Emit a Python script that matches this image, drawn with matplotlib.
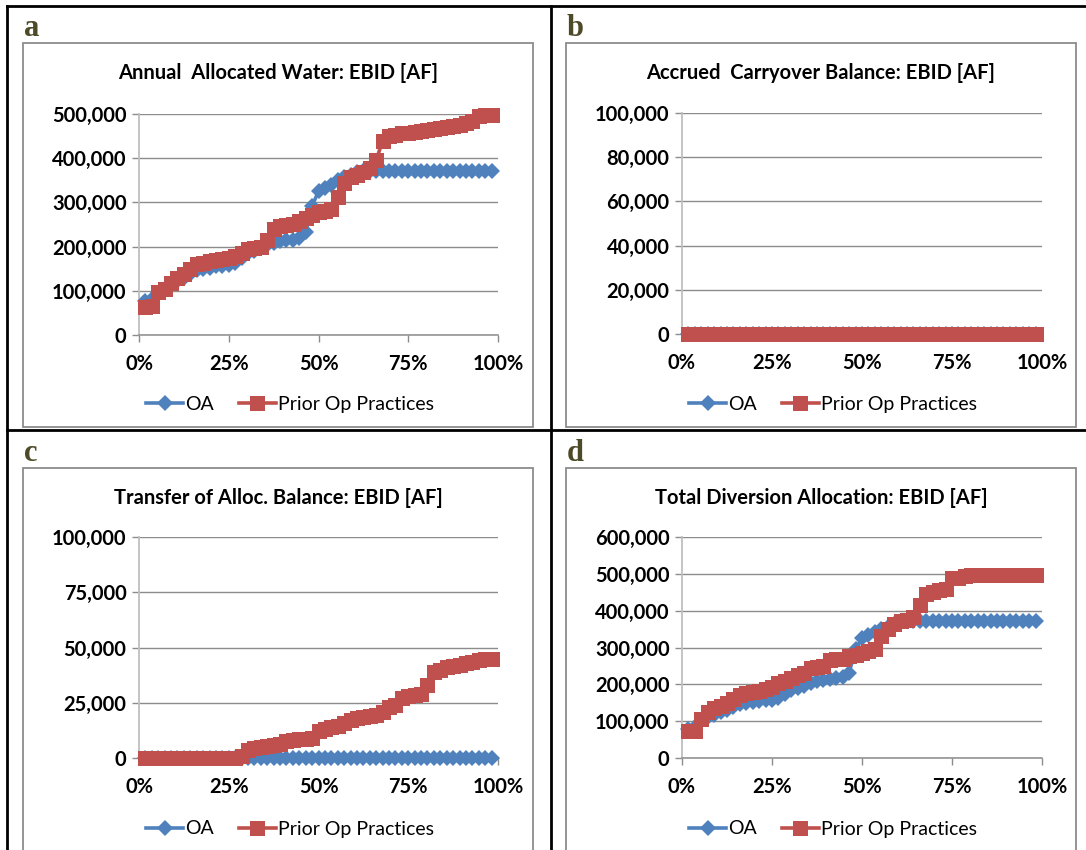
import numpy as np
import matplotlib
matplotlib.use("Agg")
import matplotlib.pyplot as plt
from matplotlib.lines import Line2D
from matplotlib.patches import Rectangle
from matplotlib.ticker import FuncFormatter

plt.rcParams['font.family'] = ['Lato', 'DejaVu Sans']

# ---------------- data ----------------
n_years = 55
exceedance = np.arange(1, n_years + 1) / (n_years + 1)   # plotting positions

series_names = ["OA", "Prior Op Practices"]

alloc_oa = [76000, 82000, 95000, 105000, 115000, 122000, 128000, 138000, 146000, 150000,
            152000, 155000, 157000, 158000, 163000, 175000, 185000, 190000, 196000, 203000,
            208000, 212000, 214000, 216000, 220000, 232000, 292000, 325000, 332000, 340000,
            350000, 357000, 363000, 368000, 372000, 372000, 372000, 372000, 372000, 372000,
            372000, 372000, 372000, 372000, 372000, 372000, 372000, 372000, 372000, 372000,
            372000, 372000, 372000, 372000, 372000]
alloc_prior = [64000, 65000, 98000, 105000, 118000, 128000, 137000, 150000, 160000, 164000,
               168000, 170000, 172000, 175000, 178000, 185000, 195000, 197000, 200000, 215000,
               240000, 246000, 249000, 252000, 258000, 265000, 272000, 278000, 281000, 285000,
               312000, 345000, 357000, 362000, 368000, 378000, 395000, 440000, 450000, 453000,
               456000, 458000, 460000, 462000, 464000, 466000, 468000, 470000, 472000, 475000,
               480000, 485000, 495000, 497000, 497000]

carry_oa = [0, 0, 0, 0, 0, 0, 0, 0, 0, 0, 0, 0, 0, 0, 0, 0, 0, 0, 0, 0, 0, 0, 0, 0, 0, 0, 0, 0,
            0, 0, 0, 0, 0, 0, 0, 0, 0, 0, 0, 0, 0, 0, 0, 0, 0, 0, 0, 0, 0, 0, 0, 0, 0, 0, 0]
carry_prior = [0, 0, 0, 0, 0, 0, 0, 0, 0, 0, 0, 0, 0, 0, 0, 0, 0, 0, 0, 0, 0, 0, 0, 0, 0, 0, 0, 0,
               0, 0, 0, 0, 0, 0, 0, 0, 0, 0, 0, 0, 0, 0, 0, 0, 0, 0, 0, 0, 0, 0, 0, 0, 0, 0, 0]

transfer_oa = [0, 0, 0, 0, 0, 0, 0, 0, 0, 0, 0, 0, 0, 0, 0, 0, 0, 0, 0, 0, 0, 0, 0, 0, 0, 0, 0, 0,
               0, 0, 0, 0, 0, 0, 0, 0, 0, 0, 0, 0, 0, 0, 0, 0, 0, 0, 0, 0, 0, 0, 0, 0, 0, 0, 0]
transfer_prior = [0, 0, 0, 0, 0, 0, 0, 0, 0, 0, 0, 0, 0, 0, 0, 1000, 3500, 4500, 5000, 5500,
                  6000, 6500, 7500, 8000, 8500, 8500, 9000, 12000, 13000, 14000, 14500, 16000,
                  17000, 18000, 18500, 19000, 19500, 21000, 23000, 24000, 27000, 28000, 28500,
                  29000, 33000, 39000, 40000, 41000, 41500, 42000, 43000, 43500, 44500, 45000,
                  45000]

total_oa = [78000, 85000, 100000, 112000, 118000, 124000, 130000, 138000, 146000, 150000,
            152000, 155000, 157000, 158000, 163000, 175000, 185000, 190000, 196000, 203000,
            208000, 212000, 214000, 216000, 220000, 232000, 295000, 325000, 333000, 342000,
            350000, 357000, 363000, 368000, 372000, 372000, 372000, 372000, 372000, 372000,
            372000, 372000, 372000, 372000, 372000, 372000, 372000, 372000, 372000, 372000,
            372000, 372000, 372000, 372000, 372000]
total_prior = [72000, 74000, 105000, 125000, 135000, 142000, 150000, 160000, 170000, 176000,
               180000, 183000, 188000, 193000, 203000, 210000, 216000, 226000, 230000, 243000,
               248000, 250000, 265000, 268000, 270000, 276000, 280000, 284000, 290000, 295000,
               330000, 350000, 365000, 372000, 376000, 382000, 415000, 445000, 452000, 456000,
               460000, 488000, 490000, 495000, 496000, 496000, 496000, 496000, 496000, 496000,
               496000, 496000, 496000, 496000, 496000]

x_ticks = [0, 0.25, 0.5, 0.75, 1.0]

panels = [
    dict(letter="a", title="Annual  Allocated Water: EBID [AF]", oa=alloc_oa, prior=alloc_prior,
         yticks=[0, 100000, 200000, 300000, 400000, 500000]),
    dict(letter="b", title="Accrued  Carryover Balance: EBID [AF]", oa=carry_oa, prior=carry_prior,
         yticks=[0, 20000, 40000, 60000, 80000, 100000]),
    dict(letter="c", title="Transfer of Alloc. Balance: EBID [AF]", oa=transfer_oa, prior=transfer_prior,
         yticks=[0, 25000, 50000, 75000, 100000]),
    dict(letter="d", title="Total Diversion Allocation: EBID [AF]", oa=total_oa, prior=total_prior,
         yticks=[0, 100000, 200000, 300000, 400000, 500000, 600000]),
]

# ---------------- layout (pixels) ----------------
W, H = 1086, 850
fig = plt.figure(figsize=(W / 100, H / 100), dpi=100)
fig.patch.set_facecolor("white")


def fx(x):
    return x / W


def fy(y):
    return 1 - y / H


# (box_left, box_top, box_right, box_bottom, plot_left, plot_top, plot_right, plot_bottom)
geo = [
    (23, 43, 533, 427, 139, 114, 498, 335),
    (566, 43, 1076, 427, 682, 113, 1042, 334),
    (23, 468, 533, 860, 139, 537, 498, 758),
    (566, 468, 1076, 860, 682, 537, 1042, 758),
]

blue = "#4F81BD"
red = "#C0504D"
grid_c = "#8C8C8C"
axis_c = "#BFBFBF"

# outer frame lines
frame_kw = dict(color="black", lw=2.0, transform=fig.transFigure, zorder=10)
fig.add_artist(Line2D([fx(7), fx(1086)], [fy(6), fy(6)], **frame_kw))
fig.add_artist(Line2D([fx(7), fx(7)], [fy(6), fy(850)], **frame_kw))
fig.add_artist(Line2D([fx(551), fx(551)], [fy(6), fy(850)], **frame_kw))
fig.add_artist(Line2D([fx(7), fx(1086)], [fy(430), fy(430)], **frame_kw))

for p, g in zip(panels, geo):
    bl, bt, br, bb, pl, pt, pr, pb = g
    # chart box
    fig.add_artist(Rectangle((fx(bl), fy(bb)), fx(br - bl), (bb - bt) / H,
                             transform=fig.transFigure, fill=False,
                             edgecolor="#8C8C8C", lw=1.3, zorder=1))
    # letter
    fig.text(fx(bl + 1), fy(bt - 14), p["letter"], fontsize=22, fontweight="bold",
             family=["Liberation Serif", "DejaVu Serif"], color="#4D4A28",
             ha="left", va="center")
    # title
    fig.text(fx((bl + br) / 2), fy(bt + 30), p["title"], fontsize=14.5, fontweight="bold",
             ha="center", va="center", color="black")

    ax = fig.add_axes([fx(pl), fy(pb), fx(pr - pl), (pb - pt) / H])
    ymax = p["yticks"][-1]
    ax.set_xlim(0, 1)
    ax.set_ylim(0, ymax)
    ax.set_facecolor("none")
    for s in ["top", "right"]:
        ax.spines[s].set_visible(False)
    ax.spines["left"].set_color(axis_c)
    ax.spines["left"].set_linewidth(1.3)
    ax.spines["bottom"].set_color(grid_c)
    ax.spines["bottom"].set_linewidth(1.1)
    ax.set_yticks(p["yticks"])
    ax.set_xticks(x_ticks)
    ax.yaxis.set_major_formatter(FuncFormatter(lambda v, pos: f"{v:,.0f}"))
    ax.xaxis.set_major_formatter(FuncFormatter(lambda v, pos: f"{v:.0%}"))
    ax.tick_params(axis="y", direction="out", length=5, width=1, color=grid_c,
                   labelsize=14.5, pad=4)
    ax.tick_params(axis="x", direction="out", length=5, width=1, color=grid_c,
                   labelsize=14.5, pad=9)
    for lab in ax.get_yticklabels() + ax.get_xticklabels():
        lab.set_fontweight("bold")
    ax.grid(axis="y", color=grid_c, lw=1.0)
    ax.set_axisbelow(True)

    ax.plot(exceedance, p["oa"], color=blue, lw=2.6, marker="D", markersize=8.5,
            markeredgewidth=0, clip_on=False, zorder=3, label=series_names[0])
    ax.plot(exceedance, p["prior"], color=red, lw=2.6, marker="s", markersize=10.8,
            markeredgewidth=0, clip_on=False, zorder=4, label=series_names[1])

    leg_y = bt + 361
    fig.legend(handles=ax.get_lines(), labels=series_names, loc="center",
               bbox_to_anchor=(fx((bl + br) / 2 + 12), fy(leg_y)), ncol=2, frameon=False,
               fontsize=14, handlelength=1.9, handletextpad=0.1, columnspacing=1.3,
               borderaxespad=0)

fig.savefig("out.png", dpi=100)
